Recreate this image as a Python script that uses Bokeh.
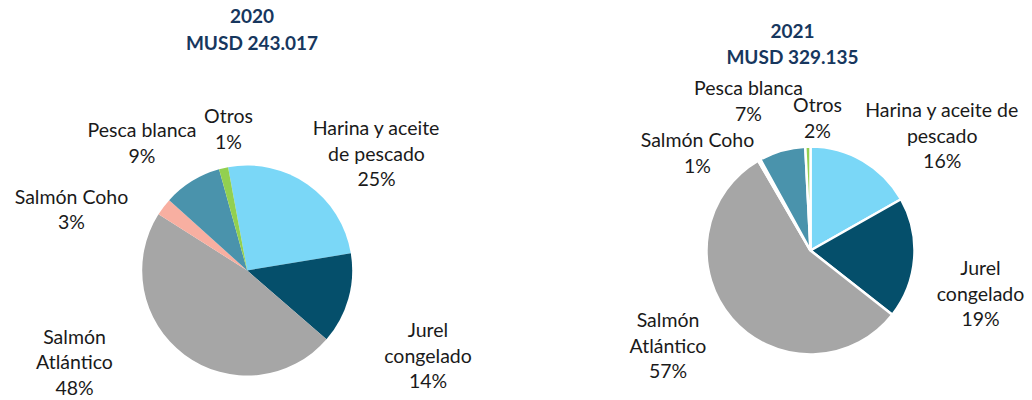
import math
from bokeh.plotting import figure
from bokeh.models import Range1d, ColumnDataSource
from bokeh.core.properties import value
from bokeh.embed import file_html
from bokeh.resources import INLINE

# ---------------- data ----------------
categories = ["Harina y aceite de pescado", "Jurel congelado", "Salmón Atlántico",
              "Salmón Coho", "Pesca blanca", "Otros"]
colors = ["#7AD7F7", "#054F6B", "#A6A6A6", "#F8AFA1", "#4A93AC", "#92D050"]

years = ["2020", "2021"]
totals = ["MUSD 243.017", "MUSD 329.135"]

shares_2020 = [25.3, 14.0, 47.6, 2.7, 9.0, 1.4]
shares_2021 = [16.8, 18.8, 56.0, 0.4, 7.2, 0.8]
pct_labels_2020 = ["25%", "14%", "48%", "3%", "9%", "1%"]
pct_labels_2021 = ["16%", "19%", "57%", "1%", "7%", "2%"]

# label line breaks (text only)
names_2020 = [["Harina y aceite", "de pescado"], ["Jurel", "congelado"], ["Salmón", "Atlántico"],
              ["Salmón Coho"], ["Pesca blanca"], ["Otros"]]
names_2021 = [["Harina y aceite de", "pescado"], ["Jurel", "congelado"], ["Salmón", "Atlántico"],
              ["Salmón Coho"], ["Pesca blanca"], ["Otros"]]

# ---------------- layout (pixels of the 1032x400 page) ----------------
FONT = "Lato"
LABEL_SIZE = 19.5
LINE_H = 25.5
TEXT_DY = -6  # baseline correction
pies = [
    dict(cx=246.7, cy=270, r=105, start=-10.5, line_w=0, line_c=None,
         shares=shares_2020, pcts=pct_labels_2020, names=names_2020,
         title_x=251.5, title_y=(21.7, 48.3),
         lab=[(376, 133), (427.5, 335), (74, 341.7), (71, 201.7), (141.5, 135), (228, 121)]),
    dict(cx=810, cy=250, r=104, start=0.0, line_w=2.5, line_c="white",
         shares=shares_2021, pcts=pct_labels_2021, names=names_2021,
         title_x=792, title_y=(36.7, 61.7),
         lab=[(941.7, 115), (980, 273), (667.5, 325), (697, 145), (748, 93), (817, 110)]),
]

W, H = 1032, 400
p = figure(width=W, height=H, output_backend="svg", toolbar_location=None,
           x_range=Range1d(0, W), y_range=Range1d(-H, 0),
           min_border=0, outline_line_color=None, background_fill_color="white",
           border_fill_color="white")
p.axis.visible = False
p.xgrid.visible = False
p.ygrid.visible = False

for i, pie in enumerate(pies):
    total = sum(pie["shares"])
    starts, ends = [], []
    acc = pie["start"]
    for s in pie["shares"]:
        a0 = acc
        a1 = acc + 360.0 * s / total
        starts.append(math.radians(90 - a0))
        ends.append(math.radians(90 - a1))
        acc = a1
    src = ColumnDataSource(dict(x=[pie["cx"]] * len(starts), y=[-pie["cy"]] * len(starts),
                                start=starts, end=ends, color=colors, cat=categories))
    kw = dict(line_color=pie["line_c"], line_width=pie["line_w"]) if pie["line_c"] else dict(line_color=None)
    p.wedge(x="x", y="y", radius=pie["r"], radius_units="screen", start_angle="start",
            end_angle="end", direction="clock", fill_color="color", source=src, **kw)

    # category labels
    xs, ys, txt = [], [], []
    for (lx, ly), lines, pct in zip(pie["lab"], pie["names"], pie["pcts"]):
        for k, line in enumerate(lines + [pct]):
            xs.append(lx)
            ys.append(-(ly + k * LINE_H + TEXT_DY))
            txt.append(line)
    p.text(x=xs, y=ys, text=txt, text_align="center", text_baseline="alphabetic",
           text_font=value(FONT), text_font_size=f"{LABEL_SIZE}px", text_color="#1a1a1a")

    # title
    p.text(x=[pie["title_x"], pie["title_x"]],
           y=[-(pie["title_y"][0] + TEXT_DY), -(pie["title_y"][1] + TEXT_DY)],
           text=[years[i], totals[i]], text_align="center", text_baseline="alphabetic",
           text_font=value(FONT), text_font_style="bold", text_font_size="19px",
           text_color="#17375E")

open("out.html", "w").write(file_html(p, INLINE))
